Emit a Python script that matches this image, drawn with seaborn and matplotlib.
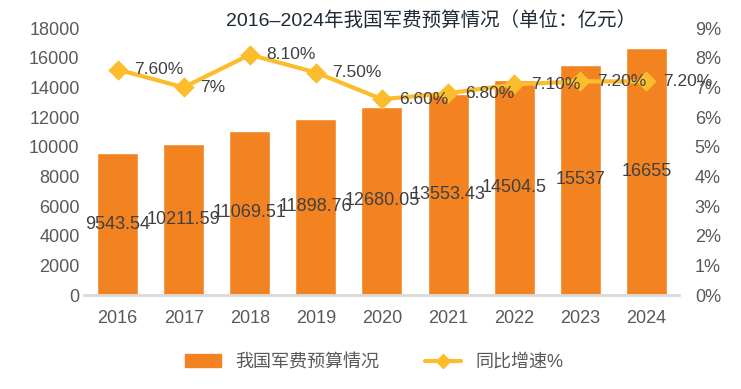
import matplotlib
matplotlib.use("Agg")
import matplotlib.pyplot as plt
import seaborn as sns
from matplotlib.patches import Patch
from matplotlib.lines import Line2D
from matplotlib.ticker import FuncFormatter

# ==============================
# data
# ==============================
years = ["2016", "2017", "2018", "2019", "2020", "2021", "2022", "2023", "2024"]
budget = [9543.54, 10211.59, 11069.51, 11898.76, 12680.05, 13553.43, 14504.5, 15537, 16655]
budget_labels = ["9543.54", "10211.59", "11069.51", "11898.76", "12680.05",
                 "13553.43", "14504.5", "15537", "16655"]
growth = [7.6, 7.0, 8.1, 7.5, 6.6, 6.8, 7.1, 7.2, 7.2]
growth_labels = ["7.60%", "7%", "8.10%", "7.50%", "6.60%", "6.80%", "7.10%", "7.20%", "7.20%"]

bar_color = "#F38321"
line_color = "#FBBD2E"
tick_color = "#595959"
label_color = "#404040"

sns.set_theme(style="white")
plt.rcParams["font.family"] = ["Liberation Sans", "Noto Sans CJK SC", "DejaVu Sans"]

fig = plt.figure(figsize=(7.41, 3.89), dpi=100)
ax = fig.add_axes([0.114, 0.2416, 0.803, 0.6864])

# bars
sns.barplot(x=years, y=budget, color=bar_color, width=0.62, saturation=1, ax=ax)
ax.set_ylim(0, 18000)
ax.set_yticks(range(0, 18001, 2000))
for i, v in enumerate(budget):
    ax.text(i, v / 2, budget_labels[i], ha="center", va="center",
            fontsize=13, color=label_color)

# growth line
ax2 = ax.twinx()
sns.pointplot(x=years, y=growth, color=line_color, markers="D", markersize=8,
              linewidth=3, ax=ax2)
ax2.set_ylim(0, 9)
ax2.set_yticks(range(0, 10))
ax2.yaxis.set_major_formatter(FuncFormatter(lambda v, p: f"{int(v)}%"))
for i, v in enumerate(growth):
    ax2.annotate(growth_labels[i], (i, v), xytext=(12, 0), textcoords="offset points",
                 ha="left", va="center", fontsize=12.5, color=label_color)

for a in (ax, ax2):
    for s in a.spines.values():
        s.set_visible(False)
    a.tick_params(axis="both", length=0, labelsize=13, colors=tick_color)
    a.set_xlabel("")
    a.set_ylabel("")
ax.spines["bottom"].set_visible(True)
ax.spines["bottom"].set_color("#D9D9D9")
ax.spines["bottom"].set_linewidth(2)
ax.tick_params(axis="x", pad=11)
ax2.tick_params(axis="y", pad=11)
ax.set_xlim(-0.5, 8.5)

fig.text(0.582, 0.948, "2016–2024年我国军费预算情况（单位：亿元）", ha="center", va="center",
         fontsize=14, color="#1F2A36")

handles = [Patch(color=bar_color, label="我国军费预算情况"),
           Line2D([0], [0], color=line_color, lw=3, marker="D", markersize=7, label="同比增速%")]
fig.legend(handles=handles, loc="center", bbox_to_anchor=(0.505, 0.068), ncol=2,
           frameon=False, fontsize=13, labelcolor=tick_color, handlelength=2.0,
           columnspacing=2.5)

fig.savefig("out.png", dpi=100)
